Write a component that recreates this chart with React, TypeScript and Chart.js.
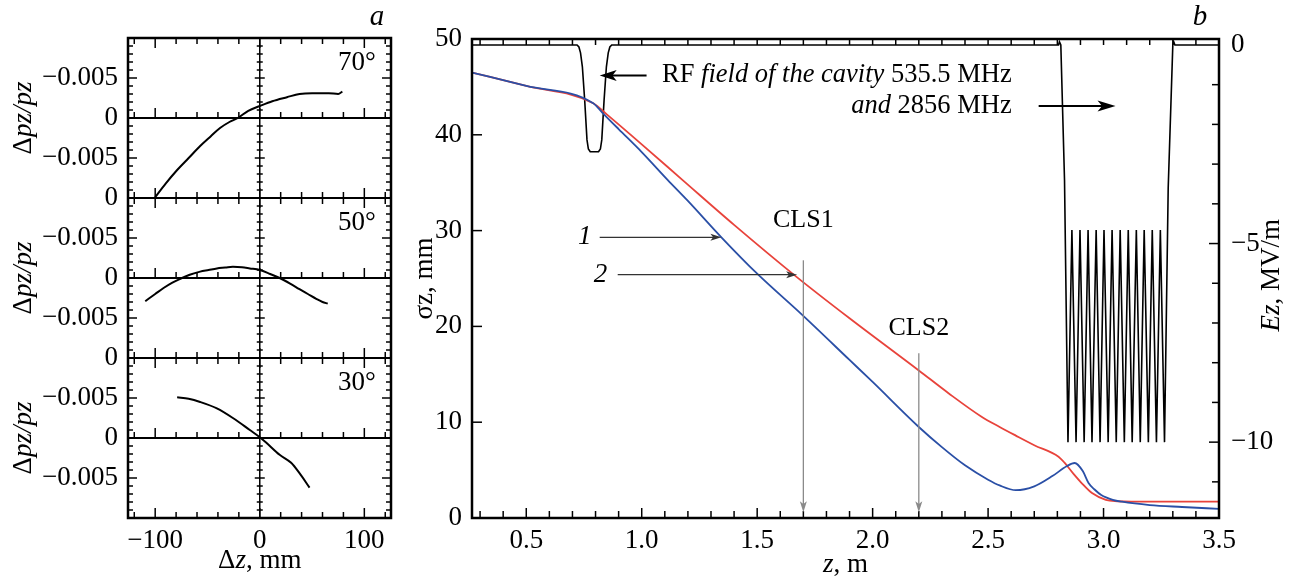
import React, { useEffect, useRef } from 'react';
import { Chart, registerables } from 'chart.js';

Chart.register(...registerables);

const SERIF = "'Liberation Serif', 'Times New Roman', Times, serif";
const MINUS = '\u2212';

// ---------------- panel a: Δpz/pz vs Δz ----------------
const DZ_MIN = -126;
const DZ_MAX = 125.5;
const DZ_TICKS = [-100, 0, 100];
const DZ_MINOR_TICKS = [-120, -100, -80, -60, -40, -20, 0, 20, 40, 60, 80, 100, 120];
const DP_TICKS_UPPER = [-0.005, 0, 0.005, 0.01];
const DP_TICKS_LOWER = [-0.005, 0, 0.005];
const DP_MINOR_TICKS = [
  -0.009, -0.008, -0.007, -0.006, -0.005, -0.004, -0.003, -0.002, -0.001,
  0.001, 0.002, 0.003, 0.004, 0.005, 0.006, 0.007, 0.008, 0.009,
];
const PHASES = ['70°', '50°', '30°'];

const DZ_70 = [-100, -90, -79, -68, -57, -47, -38, -29, -21, -11, 0, 12, 26, 38, 50, 57, 66, 75, 79];
const DP_70 = [0.0099, 0.0082, 0.0065, 0.005, 0.0035, 0.0023, 0.00125, 0.0005, 0, -0.0009, -0.0015, -0.0021, -0.0026, -0.003, -0.0031, -0.0031, -0.0031, -0.003, -0.0033];

const DZ_50 = [-109.5, -100, -92, -84, -76, -67, -57, -49, -41, -33, -25.7, -17, -9.5, 0, 10, 19, 29, 38, 46, 54, 60, 65];
const DP_50 = [0.0029, 0.002, 0.00125, 0.0006, 0.0001, -0.0004, -0.0008, -0.001, -0.0012, -0.0013, -0.0014, -0.00135, -0.0012, -0.001, -0.0005, 0, 0.0007, 0.0014, 0.002, 0.0026, 0.003, 0.0032];

const DZ_30 = [-79, -68, -57, -41, -25.7, -9.5, 0, 6.3, 19, 30, 38, 47.6];
const DP_30 = [-0.0051, -0.0049, -0.0045, -0.0037, -0.0025, -0.001, -0.0001, 0.0006, 0.0021, 0.0031, 0.0044, 0.0062];

// ---------------- panel b: σz and Ez vs z ----------------
const Z_MIN = 0.265;
const Z_MAX = 3.5;
const Z_TICKS = [0.5, 1.0, 1.5, 2.0, 2.5, 3.0, 3.5];
const Z_MINOR_TICKS = [0.3, 0.4, 0.5, 0.6, 0.7, 0.8, 0.9, 1.0, 1.1, 1.2, 1.3, 1.4, 1.5, 1.6, 1.7, 1.8, 1.9, 2.0, 2.1, 2.2, 2.3, 2.4, 2.5, 2.6, 2.7, 2.8, 2.9, 3.0, 3.1, 3.2, 3.3, 3.4];
const SIGMA_MIN = 0;
const SIGMA_MAX = 50;
const SIGMA_TICKS = [0, 10, 20, 30, 40, 50];
const EZ_MIN = -11.91;
const EZ_MAX = 0.15;
const EZ_TICKS = [-10, -5, 0];
const EZ_MINOR_TICKS = [-11, -10, -9, -8, -7, -6, -5, -4, -3, -2, -1];

// curve 1 (blue)
const Z_BLUE = [0.265, 0.5, 0.79, 0.83, 0.9, 1.0, 1.112, 1.2, 1.345, 1.5, 1.695, 1.9, 2.0, 2.2, 2.3, 2.4, 2.5, 2.55, 2.62, 2.7, 2.78, 2.84, 2.875, 2.91, 2.935, 2.96, 2.99, 3.04, 3.08, 3.2, 3.34, 3.5];
const SIGMA_BLUE = [46.5, 45.1, 43.3, 42.3, 40.6, 38.2, 35.3, 33.1, 29.3, 25.5, 21.2, 16.5, 14.2, 9.5, 7.4, 5.5, 4.0, 3.4, 2.9, 3.3, 4.4, 5.4, 5.74, 4.9, 3.65, 3.0, 2.4, 1.9, 1.7, 1.35, 1.15, 0.95];

// curve 2 (red)
const Z_RED = [0.265, 0.5, 0.79, 0.85, 1.0, 1.176, 1.4, 1.669, 1.9, 2.2, 2.33, 2.47, 2.55, 2.62, 2.7, 2.805, 2.83, 2.87, 2.905, 2.95, 3.01, 3.06, 3.12, 3.5];
const SIGMA_RED = [46.5, 45.1, 43.3, 42.1, 39.0, 35.3, 30.6, 25.2, 20.85, 15.4, 13.0, 10.6, 9.5, 8.6, 7.6, 6.4, 5.8, 4.6, 3.65, 2.6, 1.9, 1.75, 1.7, 1.7];

// RF field on axis (black, right axis)
const Z_RF = [
  0.265, 0.72, 0.728, 0.735, 0.743, 0.753, 0.763, 0.769, 0.777, 0.813, 0.821, 0.827, 0.837, 0.847, 0.855, 0.862, 0.87,
  2.805, 2.809, 2.815, 2.831, 2.846,
  2.863, 2.881, 2.898, 2.916, 2.933, 2.950, 2.968, 2.985, 3.002, 3.020, 3.037, 3.055,
  3.072, 3.090, 3.107, 3.124, 3.142, 3.159, 3.176, 3.194, 3.211, 3.229, 3.246, 3.264,
  3.28, 3.3, 3.304, 3.309, 3.5,
];
const EZ_RF = [
  0, 0, -0.05, -0.2, -0.55, -1.39, -2.39, -2.62, -2.69, -2.69, -2.62, -2.39, -1.39, -0.55, -0.2, -0.05, 0,
  0, 0.08, 0, -3.4, -10,
  -4.66, -10, -4.66, -10, -4.66, -10, -4.66, -10, -4.66, -10, -4.66, -10,
  -4.66, -10, -4.66, -10, -4.66, -10, -4.66, -10, -4.66, -10, -4.66, -10,
  -3.6, 0, 0.08, 0, 0,
];

// annotations in data coordinates (z, σz)
const NOTE_RF_ARROW = { z1: 1.021, z2: 0.818, s: 46.2 };
const NOTE_RF_TEXT = { zRight: 2.602, s1: 46.2, s2: 43.0 };
const NOTE_RF_ARROW2 = { z1: 2.719, z2: 3.052, s: 43.0 };
const NOTE_ARROW_1 = { z1: 0.818, z2: 1.345, s: 29.3, zLabel: 0.753 };
const NOTE_ARROW_2 = { z1: 0.896, z2: 1.673, s: 25.4, zLabel: 0.822 };
const NOTE_CLS = [
  { name: 'CLS1', z: 1.7, sText: 31.1, sTop: 26.9, sTip: 0.6 },
  { name: 'CLS2', z: 2.2, sText: 19.8, sTop: 17.2, sTip: 0.6 },
];

const BLUE = '#2a4fa6';
const RED = '#e8433b';
const FS = 27; // main text size

const pts = (xs: number[], ys: number[]) => xs.map((x, i) => ({ x, y: ys[i] }));

type Seg = [string, boolean];
function richText(ctx: CanvasRenderingContext2D, segs: Seg[], x: number, y: number, size: number, align: 'left' | 'center' | 'right', angle = 0) {
  ctx.save();
  ctx.translate(x, y);
  if (angle) ctx.rotate(angle);
  const widths = segs.map(([t, it]) => {
    ctx.font = `${it ? 'italic ' : ''}${size}px ${SERIF}`;
    return ctx.measureText(t).width;
  });
  const total = widths.reduce((a, b) => a + b, 0);
  let cx = align === 'center' ? -total / 2 : align === 'right' ? -total : 0;
  ctx.textBaseline = 'middle';
  ctx.textAlign = 'left';
  ctx.fillStyle = '#000';
  segs.forEach(([t, it], i) => {
    ctx.font = `${it ? 'italic ' : ''}${size}px ${SERIF}`;
    ctx.fillText(t, cx, 0);
    cx += widths[i];
  });
  ctx.restore();
}

function seg(ctx: CanvasRenderingContext2D, x1: number, y1: number, x2: number, y2: number) {
  ctx.beginPath();
  ctx.moveTo(x1, y1);
  ctx.lineTo(x2, y2);
  ctx.stroke();
}

function arrow(ctx: CanvasRenderingContext2D, x1: number, y1: number, x2: number, y2: number, color: string, width: number, headLen: number, headHalf: number) {
  const a = Math.atan2(y2 - y1, x2 - x1);
  const c = Math.cos(a);
  const s = Math.sin(a);
  ctx.save();
  ctx.strokeStyle = color;
  ctx.fillStyle = color;
  ctx.lineWidth = width;
  seg(ctx, x1, y1, x2 - c * headLen * 0.7, y2 - s * headLen * 0.7);
  ctx.beginPath();
  ctx.moveTo(x2, y2);
  ctx.lineTo(x2 - c * headLen - s * headHalf, y2 - s * headLen + c * headHalf);
  ctx.lineTo(x2 - c * headLen * 0.75, y2 - s * headLen * 0.75);
  ctx.lineTo(x2 - c * headLen + s * headHalf, y2 - s * headLen - c * headHalf);
  ctx.closePath();
  ctx.fill();
  ctx.restore();
}

const near = (a: number, b: number) => Math.abs(a - b) < 1e-9;
const fmtInt = (v: number) => (v < 0 ? MINUS + Math.abs(v) : String(v));

const tickFont = { family: SERIF, size: FS };

function panelAxis(weight: number, ticks: number[]) {
  return {
    type: 'linear',
    position: 'left',
    stack: 'a',
    stackWeight: 1,
    weight,
    reverse: true,
    min: -0.01,
    max: 0.01,
    grid: { display: false, drawTicks: false },
    border: { display: false },
    afterBuildTicks: (s: any) => {
      s.ticks = ticks.map((v) => ({ value: v }));
    },
    afterFit: (s: any) => {
      s.width = 128;
    },
    ticks: {
      font: tickFont,
      color: '#000',
      padding: 10,
      autoSkip: false,
      callback: (v: number) => (near(v, 0) || near(Math.abs(v), 0.01) ? '0' : MINUS + '0.005'),
    },
  };
}

const panelAPlugin = {
  id: 'panelA',
  afterDraw(chart: any) {
    const { ctx, chartArea: ca, scales } = chart;
    const ax = scales.x;
    const panels = [scales.y70, scales.y50, scales.y30];
    const x0 = ax.getPixelForValue(0);
    ctx.save();
    ctx.strokeStyle = '#000';
    ctx.lineWidth = 1.5;
    panels.forEach((ys: any) => {
      const y0 = ys.getPixelForValue(0);
      DP_MINOR_TICKS.forEach((v) => {
        const y = ys.getPixelForValue(v);
        const L = near(Math.abs(v), 0.005) ? 9 : 5;
        seg(ctx, ca.left, y, ca.left + L, y);
        seg(ctx, ca.right, y, ca.right - L, y);
        seg(ctx, x0 - (L > 5 ? 5 : 3), y, x0 + (L > 5 ? 5 : 3), y);
      });
      DZ_MINOR_TICKS.forEach((v) => {
        const x = ax.getPixelForValue(v);
        const L = DZ_TICKS.includes(v) ? 10 : 6;
        seg(ctx, x, ys.top, x, ys.top + L);
        seg(ctx, x, y0, x, y0 - L);
        seg(ctx, x, ys.bottom, x, ys.bottom - L);
      });
    });
    ctx.lineWidth = 2;
    panels.forEach((ys: any) => {
      const y0 = ys.getPixelForValue(0);
      seg(ctx, ca.left, y0, ca.right, y0);
      seg(ctx, ca.left, ys.bottom, ca.right, ys.bottom);
    });
    ctx.lineWidth = 1.5;
    seg(ctx, x0, ca.top, x0, ca.bottom);
    ctx.lineWidth = 2.5;
    ctx.strokeRect(ca.left, ca.top, ca.right - ca.left, ca.bottom - ca.top);
    ctx.restore();

    panels.forEach((ys: any, i: number) => {
      richText(ctx, [['Δ', false], ['pz/pz', true]], 24, ys.getPixelForValue(0), FS, 'center', -Math.PI / 2);
      richText(ctx, [[PHASES[i], false]], ax.getPixelForValue(111), ys.getPixelForValue(-0.0069), FS, 'right');
    });
    richText(ctx, [['Δ', false], ['z', true], [', mm', false]], ax.getPixelForValue(0), ca.bottom + 43, FS, 'center');
    richText(ctx, [['a', true]], ax.getPixelForValue(112), ca.top - 21, 29, 'center');
  },
};

const panelBPlugin = {
  id: 'panelB',
  afterDraw(chart: any) {
    const { ctx, chartArea: ca, scales } = chart;
    const x = scales.x;
    const y = scales.y;
    const y2 = scales.y2;
    ctx.save();
    ctx.strokeStyle = '#000';
    ctx.lineWidth = 1.5;
    Z_MINOR_TICKS.forEach((v) => {
      const px = x.getPixelForValue(v);
      const major = Z_TICKS.some((t) => near(t, v));
      seg(ctx, px, ca.top, px, ca.top + 6);
      seg(ctx, px, ca.bottom, px, ca.bottom - (major ? 10 : 7));
    });
    SIGMA_TICKS.forEach((v) => {
      const py = y.getPixelForValue(v);
      seg(ctx, ca.left, py, ca.left + 10, py);
    });
    EZ_MINOR_TICKS.forEach((v) => {
      const py = y2.getPixelForValue(v);
      const major = v === -5 || v === -10;
      seg(ctx, ca.right, py, ca.right - (major ? 10 : 7), py);
    });
    ctx.lineWidth = 2.5;
    ctx.strokeRect(ca.left, ca.top, ca.right - ca.left, ca.bottom - ca.top);
    ctx.restore();

    // RF annotation
    const rfY = y.getPixelForValue(NOTE_RF_ARROW.s);
    arrow(ctx, x.getPixelForValue(NOTE_RF_ARROW.z1), rfY, x.getPixelForValue(NOTE_RF_ARROW.z2), rfY, '#000', 2, 17, 5.5);
    const tr = x.getPixelForValue(NOTE_RF_TEXT.zRight);
    richText(ctx, [['RF ', false], ['field of the cavity', true], [' 535.5 MHz', false]], tr, y.getPixelForValue(NOTE_RF_TEXT.s1), 26.5, 'right');
    richText(ctx, [['and', true], [' 2856 MHz', false]], tr, y.getPixelForValue(NOTE_RF_TEXT.s2), 26.5, 'right');
    const rf2Y = y.getPixelForValue(NOTE_RF_ARROW2.s);
    arrow(ctx, x.getPixelForValue(NOTE_RF_ARROW2.z1), rf2Y, x.getPixelForValue(NOTE_RF_ARROW2.z2), rf2Y, '#000', 2, 18, 5.5);

    // curve labels
    [[NOTE_ARROW_1, '1'], [NOTE_ARROW_2, '2']].forEach(([n, lab]: any) => {
      const py = y.getPixelForValue(n.s);
      arrow(ctx, x.getPixelForValue(n.z1), py, x.getPixelForValue(n.z2), py, '#333', 1.2, 11, 3.5);
      richText(ctx, [[lab, true]], x.getPixelForValue(n.zLabel), py, FS, 'center');
    });

    // CLS markers
    NOTE_CLS.forEach((c) => {
      const px = x.getPixelForValue(c.z);
      richText(ctx, [[c.name, false]], px, y.getPixelForValue(c.sText), 26, 'center');
      arrow(ctx, px, y.getPixelForValue(c.sTop), px, y.getPixelForValue(c.sTip), '#8a8a8a', 1.3, 11, 3.5);
    });

    // axis titles
    richText(ctx, [['σz, mm', false]], ca.left - 47, (ca.top + ca.bottom) / 2, FS, 'center', -Math.PI / 2);
    richText(ctx, [['Ez', true], [', MV/m', false]], ca.right + 53, y2.getPixelForValue(-5.8), FS, 'center', -Math.PI / 2);
    richText(ctx, [['z', true], [', m', false]], (ca.left + ca.right) / 2, ca.bottom + 47, FS, 'center');
    richText(ctx, [['b', true]], ca.right - 19, ca.top - 22, 29, 'center');
  },
};

export default function App() {
  const refA = useRef<HTMLCanvasElement>(null);
  const refB = useRef<HTMLCanvasElement>(null);

  useEffect(() => {
    document.body.style.margin = '0';
    Chart.defaults.font.family = SERIF;

    const chartA = new Chart(refA.current as HTMLCanvasElement, {
      type: 'line',
      data: {
        datasets: [
          { data: pts(DZ_70, DP_70), yAxisID: 'y70', borderColor: '#000', borderWidth: 2, pointRadius: 0, cubicInterpolationMode: 'monotone' },
          { data: pts(DZ_50, DP_50), yAxisID: 'y50', borderColor: '#000', borderWidth: 2, pointRadius: 0, cubicInterpolationMode: 'monotone' },
          { data: pts(DZ_30, DP_30), yAxisID: 'y30', borderColor: '#000', borderWidth: 2, pointRadius: 0, cubicInterpolationMode: 'monotone' },
        ],
      } as any,
      options: {
        animation: false,
        responsive: false,
        maintainAspectRatio: false,
        layout: { padding: { top: 38, right: 9, left: 0, bottom: 0 } },
        plugins: { legend: { display: false }, tooltip: { enabled: false } },
        scales: {
          x: {
            type: 'linear',
            min: DZ_MIN,
            max: DZ_MAX,
            grid: { display: false, drawTicks: false },
            border: { display: false },
            afterBuildTicks: (s: any) => {
              s.ticks = DZ_TICKS.map((v) => ({ value: v }));
            },
            afterFit: (s: any) => {
              s.height = 61;
            },
            ticks: { font: tickFont, color: '#000', padding: 7, autoSkip: false, maxRotation: 0, callback: (v: any) => fmtInt(Number(v)) },
          },
          y70: panelAxis(3, DP_TICKS_UPPER),
          y50: panelAxis(2, DP_TICKS_UPPER),
          y30: panelAxis(1, DP_TICKS_LOWER),
        } as any,
      },
      plugins: [panelAPlugin],
    } as any);

    const chartB = new Chart(refB.current as HTMLCanvasElement, {
      type: 'line',
      data: {
        datasets: [
          { data: pts(Z_BLUE, SIGMA_BLUE), yAxisID: 'y', borderColor: BLUE, borderWidth: 1.8, pointRadius: 0, cubicInterpolationMode: 'monotone' },
          { data: pts(Z_RED, SIGMA_RED), yAxisID: 'y', borderColor: RED, borderWidth: 1.8, pointRadius: 0, cubicInterpolationMode: 'monotone' },
          { data: pts(Z_RF, EZ_RF), yAxisID: 'y2', borderColor: '#000', borderWidth: 1.6, pointRadius: 0, tension: 0 },
        ],
      } as any,
      options: {
        animation: false,
        responsive: false,
        maintainAspectRatio: false,
        layout: { padding: { top: 39, right: 0, left: 0, bottom: 0 } },
        plugins: { legend: { display: false }, tooltip: { enabled: false } },
        scales: {
          x: {
            type: 'linear',
            min: Z_MIN,
            max: Z_MAX,
            grid: { display: false, drawTicks: false },
            border: { display: false },
            afterBuildTicks: (s: any) => {
              s.ticks = Z_TICKS.map((v) => ({ value: v }));
            },
            afterFit: (s: any) => {
              s.height = 61;
            },
            ticks: { font: tickFont, color: '#000', padding: 7, autoSkip: false, maxRotation: 0, callback: (v: any) => Number(v).toFixed(1) },
          },
          y: {
            type: 'linear',
            position: 'left',
            min: SIGMA_MIN,
            max: SIGMA_MAX,
            grid: { display: false, drawTicks: false },
            border: { display: false },
            afterBuildTicks: (s: any) => {
              s.ticks = SIGMA_TICKS.map((v) => ({ value: v }));
            },
            afterFit: (s: any) => {
              s.width = 72;
            },
            ticks: { font: tickFont, color: '#000', padding: 10, autoSkip: false, callback: (v: any) => String(v) },
          },
          y2: {
            type: 'linear',
            position: 'right',
            min: EZ_MIN,
            max: EZ_MAX,
            grid: { display: false, drawTicks: false },
            border: { display: false },
            afterBuildTicks: (s: any) => {
              s.ticks = EZ_TICKS.map((v) => ({ value: v }));
            },
            afterFit: (s: any) => {
              s.width = 77;
            },
            ticks: { font: tickFont, color: '#000', padding: 12, autoSkip: false, callback: (v: any) => fmtInt(Number(v)) },
          },
        } as any,
      },
      plugins: [panelBPlugin],
    } as any);

    return () => {
      chartA.destroy();
      chartB.destroy();
    };
  }, []);

  return (
    <div style={{ position: 'relative', width: 1296, height: 579, background: '#fff' }}>
      <canvas ref={refA} width={400} height={579} style={{ position: 'absolute', left: 0, top: 0 }} />
      <canvas ref={refB} width={896} height={579} style={{ position: 'absolute', left: 400, top: 0 }} />
    </div>
  );
}
